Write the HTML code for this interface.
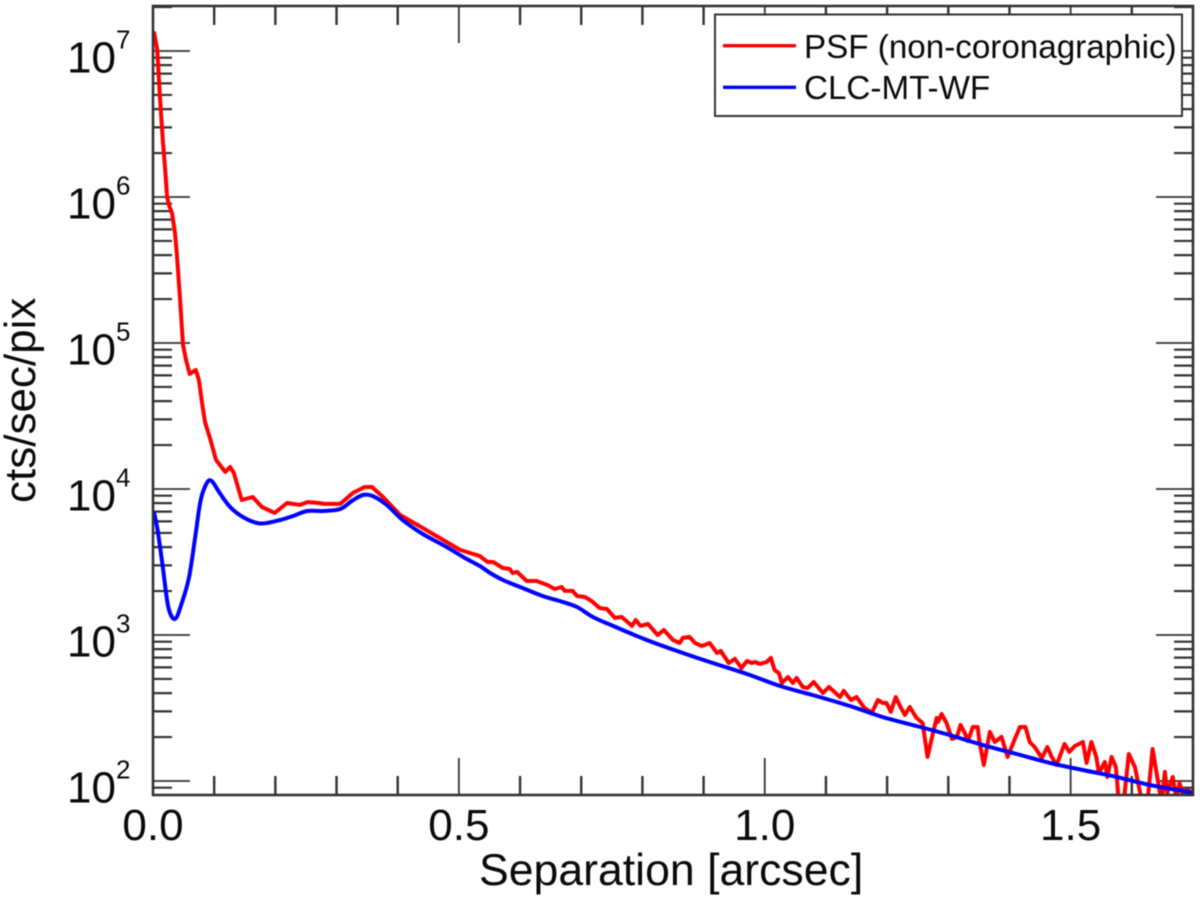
<!DOCTYPE html>
<html lang="en">
<head>
<meta charset="utf-8">
<title>PSF and CLC-MT-WF radial profiles</title>
<style>
html,body{margin:0;padding:0;background:#fff;}
body{width:1200px;height:904px;overflow:hidden;}
svg{display:block;filter:blur(0.45px);}
text{font-family:"Liberation Sans",Arial,sans-serif;fill:#0a0a0a;}
</style>
</head>
<body>
<svg id="chart" xmlns="http://www.w3.org/2000/svg" width="1200" height="904" viewBox="0 0 1200 904">
  <defs><clipPath id="plot-clip"><rect x="153" y="6" width="1040" height="789"></rect></clipPath></defs>
  <rect x="0" y="0" width="1200" height="904" fill="#fff"></rect>
  <g id="ticks"></g>
  <g id="series" clip-path="url(#plot-clip)"></g>
  <rect x="153" y="6" width="1040" height="789" fill="none" stroke="#333" stroke-width="2.6"></rect>
  <g id="tick-labels"></g>
  <text x="479" y="885" font-size="44.6">Separation [arcsec]</text>
  <text transform="translate(35,503) rotate(-90)" font-size="44">cts/sec/pix</text>
  <g>
    <rect x="715" y="14.5" width="467" height="101.5" fill="#fff" stroke="#333" stroke-width="2"></rect>
    <line x1="723" x2="796" y1="45.7" y2="45.7" stroke="#ff0000" stroke-width="3.4"></line>
    <text x="804" y="58" font-size="33.2">PSF (non-coronagraphic)</text>
    <line x1="723" x2="796" y1="87.3" y2="87.3" stroke="#0000ff" stroke-width="3.4"></line>
    <text x="804" y="99" font-size="33.2">CLC-MT-WF</text>
  </g>
</svg>
<script>
var xTickLabels = ["0.0", "0.5", "1.0", "1.5"];
var xTickValues = [0, 0.5, 1, 1.5];
var xMinorTickValues = [0.1, 0.2, 0.3, 0.4, 0.6, 0.7, 0.8, 0.9, 1.1, 1.2, 1.3, 1.4, 1.6];
var yDecadeExponents = [2, 3, 4, 5, 6, 7];
var yMinorMultipliers = [2, 3, 4, 5, 6, 7, 8, 9];

var psfSeparation = [0.002,0.007,0.011,0.016,0.020,0.023,0.026,0.031,0.036,0.039,0.044,0.049,0.054,0.060,0.065,0.070,0.075,0.080,0.085,0.093,0.103,0.118,0.126,0.132,0.145,0.163,0.178,0.199,0.219,0.240,0.253,0.270,0.281,0.306,0.327,0.346,0.358,0.376,0.404,0.441,0.480,0.502,0.534,0.547,0.556,0.572,0.583,0.588,0.595,0.611,0.627,0.644,0.657,0.668,0.673,0.686,0.693,0.706,0.717,0.730,0.742,0.755,0.766,0.783,0.789,0.797,0.809,0.825,0.835,0.850,0.861,0.866,0.877,0.886,0.897,0.910,0.922,0.928,0.941,0.951,0.962,0.971,0.979,0.984,0.992,1.003,1.010,1.016,1.023,1.028,1.038,1.046,1.052,1.062,1.070,1.080,1.095,1.105,1.123,1.129,1.141,1.150,1.163,1.168,1.175,1.185,1.193,1.199,1.206,1.214,1.221,1.229,1.237,1.248,1.258,1.266,1.275,1.281,1.283,1.289,1.297,1.306,1.314,1.320,1.327,1.332,1.340,1.348,1.351,1.358,1.368,1.376,1.387,1.397,1.408,1.417,1.426,1.433,1.441,1.453,1.462,1.469,1.477,1.490,1.498,1.507,1.520,1.526,1.534,1.542,1.546,1.556,1.560,1.567,1.574,1.578,1.587,1.595,1.605,1.616,1.626,1.634,1.645,1.649,1.654,1.658,1.667,1.673,1.678,1.683,1.691,1.698];
var psfLog10Counts = [7.123,7.007,6.712,6.390,6.185,6.000,5.945,5.890,5.753,5.603,5.315,4.986,4.884,4.788,4.802,4.815,4.747,4.596,4.459,4.350,4.199,4.117,4.151,4.110,3.925,3.945,3.877,3.836,3.904,3.891,3.911,3.904,3.898,3.898,3.973,4.014,4.014,3.945,3.822,3.733,3.637,3.583,3.541,3.500,3.500,3.459,3.452,3.425,3.432,3.370,3.370,3.343,3.315,3.329,3.302,3.302,3.267,3.260,3.233,3.185,3.178,3.117,3.124,3.062,3.103,3.062,3.076,3.000,3.034,2.966,2.945,2.980,2.987,2.945,2.925,2.945,2.877,2.891,2.808,2.836,2.774,2.822,2.808,2.815,2.802,2.815,2.843,2.760,2.740,2.671,2.712,2.671,2.706,2.644,2.637,2.678,2.603,2.644,2.575,2.617,2.555,2.575,2.500,2.487,2.466,2.555,2.534,2.534,2.473,2.575,2.514,2.452,2.507,2.432,2.397,2.165,2.329,2.432,2.404,2.459,2.397,2.288,2.302,2.384,2.329,2.274,2.370,2.370,2.267,2.110,2.336,2.267,2.302,2.165,2.281,2.370,2.370,2.267,2.233,2.158,2.233,2.165,2.110,2.254,2.199,2.240,2.267,2.124,2.267,2.165,2.055,2.130,2.028,2.165,2.096,1.891,1.870,2.185,2.096,1.870,1.870,2.219,1.938,1.870,2.062,1.918,2.028,1.870,1.986,1.918,1.938,1.925];

var clcSeparation = [0.002,0.008,0.016,0.025,0.036,0.047,0.059,0.069,0.078,0.088,0.096,0.109,0.126,0.147,0.170,0.186,0.208,0.229,0.252,0.278,0.306,0.325,0.343,0.359,0.382,0.408,0.441,0.480,0.507,0.534,0.551,0.572,0.600,0.637,0.665,0.693,0.719,0.752,0.807,0.861,0.915,0.971,1.025,1.078,1.139,1.193,1.248,1.302,1.356,1.412,1.466,1.520,1.575,1.629,1.683,1.698];
var clcLog10Counts = [3.836,3.706,3.466,3.192,3.110,3.219,3.397,3.671,3.925,4.041,4.055,3.973,3.877,3.808,3.767,3.767,3.788,3.815,3.849,3.849,3.863,3.918,3.959,3.952,3.891,3.788,3.692,3.603,3.534,3.473,3.425,3.377,3.329,3.267,3.233,3.192,3.123,3.062,2.966,2.884,2.808,2.733,2.651,2.589,2.514,2.438,2.377,2.315,2.247,2.185,2.124,2.075,2.028,1.973,1.932,1.918];

var NS = "http://www.w3.org/2000/svg";
var PLOT_LEFT = 153, PLOT_RIGHT = 1193, PLOT_TOP = 6, PLOT_BOTTOM = 795;
var X_MAX = 1.7, DECADE_PX = 146, LOG_AT_BOTTOM = 2 - 14 / 146;

function xScale(v) {
  return PLOT_LEFT + (v / X_MAX) * (PLOT_RIGHT - PLOT_LEFT);
}
function yScale(logV) {
  return PLOT_BOTTOM - (logV - LOG_AT_BOTTOM) * DECADE_PX;
}
function makeLine(parent, x1, y1, x2, y2, width) {
  var ln = document.createElementNS(NS, "line");
  ln.setAttribute("x1", x1);
  ln.setAttribute("y1", y1);
  ln.setAttribute("x2", x2);
  ln.setAttribute("y2", y2);
  ln.setAttribute("stroke", "#333");
  ln.setAttribute("stroke-width", width);
  parent.appendChild(ln);
  return ln;
}
function drawXTick(v, len, width, name) {
  var g = document.getElementById("ticks");
  var px = xScale(v);
  var bottomTick = makeLine(g, px, PLOT_BOTTOM, px, PLOT_BOTTOM - len, width);
  
  
  var topTick = makeLine(g, px, PLOT_TOP, px, PLOT_TOP + len, width);
  
  
}
function drawYTick(logV, len, width, name) {
  var g = document.getElementById("ticks");
  var py = yScale(logV);
  if (py < PLOT_TOP || py > PLOT_BOTTOM) { return; }
  var leftTick = makeLine(g, PLOT_LEFT, py, PLOT_LEFT + len, py, width);
  
  
  var rightTick = makeLine(g, PLOT_RIGHT, py, PLOT_RIGHT - len, py, width);
  
  
}
function jaggedPath(px, py) {
  var d = "M" + px[0].toFixed(1) + " " + py[0].toFixed(1);
  for (var i = 1; i < px.length; i++) {
    d += "L" + px[i].toFixed(1) + " " + py[i].toFixed(1);
  }
  return d;
}
function smoothPath(px, py) {
  var d = "M" + px[0].toFixed(1) + " " + py[0].toFixed(1);
  for (var i = 0; i < px.length - 1; i++) {
    var a = Math.max(i - 1, 0), b = Math.min(i + 2, px.length - 1);
    var c1x = px[i] + (px[i + 1] - px[a]) / 6, c1y = py[i] + (py[i + 1] - py[a]) / 6;
    var c2x = px[i + 1] - (px[b] - px[i]) / 6, c2y = py[i + 1] - (py[b] - py[i]) / 6;
    d += "C" + c1x.toFixed(1) + " " + c1y.toFixed(1) + " " + c2x.toFixed(1) + " " + c2y.toFixed(1) + " " + px[i + 1].toFixed(1) + " " + py[i + 1].toFixed(1);
  }
  return d;
}
function drawSeries(xs, ys, color, name, smooth) {
  var px = xs.map(xScale), py = ys.map(yScale);
  var pl = document.createElementNS(NS, "path");
  pl.setAttribute("d", smooth ? smoothPath(px, py) : jaggedPath(px, py));
  pl.setAttribute("fill", "none");
  pl.setAttribute("stroke", color);
  pl.setAttribute("stroke-width", "4");
  pl.setAttribute("stroke-linejoin", "round");
  pl.setAttribute("stroke-linecap", "round");
  
  
  document.getElementById("series").appendChild(pl);
}

xMinorTickValues.forEach(function (v) { drawXTick(v, 19, 2.4, "x-minor-tick"); });
xTickValues.forEach(function (v) { if (v > 0) { drawXTick(v, 37, 1.8, "x-major-tick"); } });
yDecadeExponents.forEach(function (e) {
  drawYTick(e, 37, 1.8, "y-major-tick");
  yMinorMultipliers.forEach(function (m) { drawYTick(e + Math.log10(m), 19, 2.2, "y-minor-tick"); });
});
[9].forEach(function (m) { drawYTick(1 + Math.log10(m), 19, 2.2, "y-minor-tick"); });

drawSeries(psfSeparation, psfLog10Counts, "#ff0000", "psf-line", false);
drawSeries(clcSeparation, clcLog10Counts, "#0000ff", "clc-mt-wf-line", true);

var labelGroup = document.getElementById("tick-labels");
xTickValues.forEach(function (v, i) {
  var t = document.createElementNS(NS, "text");
  t.setAttribute("x", xScale(v));
  t.setAttribute("y", 840);
  t.setAttribute("font-size", "44");
  t.setAttribute("text-anchor", "middle");
  t.textContent = xTickLabels[i];
  
  
  labelGroup.appendChild(t);
});
yDecadeExponents.forEach(function (e) {
  var py = yScale(e);
  var base = document.createElementNS(NS, "text");
  base.setAttribute("x", 67);
  base.setAttribute("y", py + 21.5);
  base.setAttribute("font-size", "44");
  base.textContent = "10";
  
  
  labelGroup.appendChild(base);
  var sup = document.createElementNS(NS, "text");
  sup.setAttribute("x", 116);
  sup.setAttribute("y", py - 2.5);
  sup.setAttribute("font-size", "26");
  sup.textContent = String(e);
  
  
  labelGroup.appendChild(sup);
});
</script>
</body>
</html>
